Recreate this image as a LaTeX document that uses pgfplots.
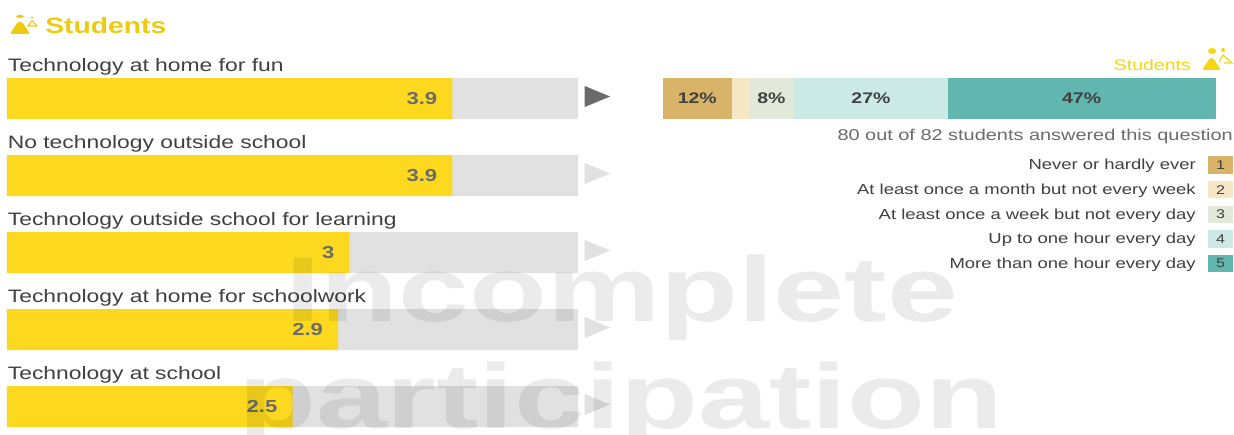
\documentclass[border=0pt]{standalone}
\usepackage{pgfplots}
\pgfplotsset{compat=1.18}
\usepackage{fontspec}
\setmainfont[FakeStretch=1.27]{Liberation Sans}
\newfontfamily\wmfont[FakeStretch=1.385]{Liberation Sans}
\definecolor{cyel}{HTML}{FCD91E}
\definecolor{cgry}{HTML}{E1E1E1}
\definecolor{ctxt}{HTML}{404040}
\definecolor{cval}{HTML}{6B6B6B}
\definecolor{ctit}{HTML}{EDCB0E}
\definecolor{csub}{HTML}{F5D60F}
\definecolor{cA}{HTML}{D9B468}
\definecolor{cB}{HTML}{F7E8C5}
\definecolor{cC}{HTML}{E2E9D8}
\definecolor{cD}{HTML}{CBEAE6}
\definecolor{cE}{HTML}{61B7AF}
\newcommand{\fs}[1]{\fontsize{#1}{#1}\selectfont}
\pgfdeclareplotmark{rtri}{%
  \pgfpathmoveto{\pgfqpoint{-9.56pt}{-7.9pt}}%
  \pgfpathlineto{\pgfqpoint{9.56pt}{0pt}}%
  \pgfpathlineto{\pgfqpoint{-9.56pt}{7.9pt}}%
  \pgfpathclose\pgfusepathqfill}
\begin{document}
\begin{tikzpicture}[x=0.75pt,y=-0.75pt]
\path[use as bounding box] (0,0) rectangle (1234,435);
% title icon
\fill[ctit,rounded corners=1.5] (10,34) -- (18,21.5) -- (22,21.5) -- (30,34) -- cycle;
\fill[ctit] (20,16.5) ellipse (4 and 1.5);
\fill[ctit] (32,17.5) circle (1.2);
\draw[ctit,line width=0.8pt] (28,26) -- (32,20.5) -- (37,26) -- cycle;
\node[anchor=base west,inner sep=0pt,text=ctit,font=\fs{16.7pt}\bfseries] at (45,34) {Students};

\begin{axis}[
  at={(5.25pt,-45pt)},anchor=north west,
  scale only axis,width=428.25pt,height=277.2pt,
  xmin=0,xmax=5,ymin=-0.5,ymax=4.3,y dir=reverse,
  hide axis,clip=false,
  xbar,bar width=30.75pt,bar shift=0pt,
]
\addplot[draw=none,fill=cgry] coordinates {(5,0) (5,1) (5,2) (5,3) (5,4)};
\addplot[draw=none,fill=cyel,
  nodes near coords,
  point meta=explicit symbolic,
  nodes near coords style={anchor=east,xshift=-11.2pt,text=cval,font=\fs{13pt}\bfseries,inner sep=0pt},
] coordinates {(3.9,0)[3.9] (3.9,1)[3.9] (3,2)[3] (2.9,3)[2.9] (2.5,4)[2.5]};
\addplot[only marks,mark=rtri,color=cval,forget plot] coordinates {(5.17,-0.026)};
\addplot[only marks,mark=rtri,color=cgry,forget plot] coordinates {(5.17,0.974) (5.17,1.974) (5.17,2.974) (5.17,3.974)};
\foreach \i/\t in {0/Technology at home for fun,1/No technology outside school,2/Technology outside school for learning,3/Technology at home for schoolwork,4/Technology at school}{
  \edef\tmp{\noexpand\node[anchor=base west,inner sep=0pt,text=ctxt,font=\noexpand\fs{13.5pt}] at (axis cs:0.005,\i-0.355) {\t};}
  \tmp
}
\end{axis}

\begin{axis}[
  at={(497.25pt,-58.5pt)},anchor=north west,
  scale only axis,width=414.75pt,height=30.75pt,
  xmin=0,xmax=100,ymin=-0.5,ymax=0.5,
  hide axis,clip=false,
  xbar stacked,bar width=30.75pt,
]
\addplot[draw=none,fill=cA] coordinates {(12.4,0)};
\addplot[draw=none,fill=cB] coordinates {(3.1,0)};
\addplot[draw=none,fill=cC] coordinates {(8.1,0)};
\addplot[draw=none,fill=cD] coordinates {(27.9,0)};
\addplot[draw=none,fill=cE] coordinates {(48.5,0)};
\end{axis}
% labels of the stacked bar, on top of it
\begin{axis}[
  at={(497.25pt,-58.5pt)},anchor=north west,
  scale only axis,width=414.75pt,height=30.75pt,
  xmin=0,xmax=100,ymin=-0.5,ymax=0.5,
  hide axis,clip=false,
]
\addplot[only marks,mark=none,
  nodes near coords,
  point meta=explicit symbolic,
  nodes near coords style={anchor=center,text=ctxt,font=\fs{11.5pt}\bfseries,inner sep=0pt},
] coordinates {(6.2,0)[12\%] (19.6,0)[8\%] (37.6,0)[27\%] (75.7,0)[47\%]};
\end{axis}

\node[anchor=base east,inner sep=0pt,text=csub,font=\fs{11.5pt}] at (1191,70) {Students};
% right icon
\fill[csub,rounded corners=1.5] (1202,70) -- (1210,58) -- (1213,58) -- (1221,70) -- cycle;
\fill[csub] (1212,51) ellipse (4 and 3);
\fill[csub] (1223,50) circle (2);
\draw[csub,line width=0.9pt] (1219,62) -- (1223,55) -- (1232,63) -- (1224,63);
\node[anchor=base east,inner sep=0pt,text=cval,font=\fs{11.76pt}] at (1233,140) {80 out of 82 students answered this question};

\foreach \y/\c/\n/\t in {165/cA/1/Never or hardly ever,189.6/cB/2/At least once a month but not every week,214.3/cC/3/At least once a week but not every day,238.9/cD/4/Up to one hour every day,263.5/cE/5/More than one hour every day}{
  \fill[\c] (1208,\y-8.8) rectangle (1233,\y+8.8);
  \node[text=ctxt,font=\fs{9.5pt},inner sep=0pt] at (1220.5,\y) {\n};
  \node[anchor=east,inner sep=0pt,text=ctxt,font=\fs{10.9pt}] at (1196,\y+1) {\t};
}

\begin{scope}
\clip (0,0) rectangle (1234,435);
\node[anchor=base west,inner sep=0pt,text=black,text opacity=0.08,font=\wmfont\fs{69pt}\bfseries] at (285,321) {Incomplete};
\node[anchor=base west,inner sep=0pt,text=black,text opacity=0.08,font=\wmfont\fs{69pt}\bfseries] at (238,428) {participation};
\end{scope}
\end{tikzpicture}
\end{document}
